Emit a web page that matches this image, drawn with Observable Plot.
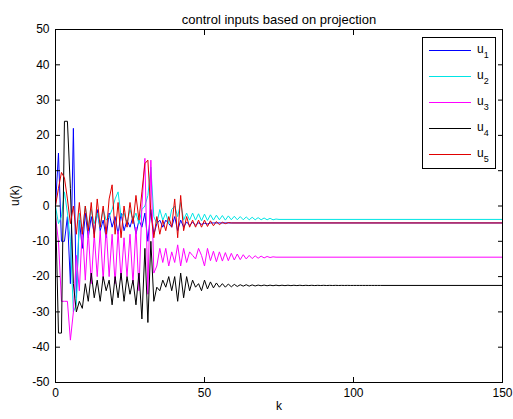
<!DOCTYPE html>
<html><head><meta charset="utf-8">
<script src="https://cdn.jsdelivr.net/npm/d3@7"></script>
<script src="https://cdn.jsdelivr.net/npm/@observablehq/plot@0.6"></script>
<style>
body{margin:0;background:#fff;}
#chart svg{display:block;}
</style></head><body><div id="chart"></div>
<script>
const title = "control inputs based on projection";
const xLabel = "k";
const yLabel = "u(k)";
const xTicks = [0, 50, 100, 150];
const yTicks = [-50, -40, -30, -20, -10, 0, 10, 20, 30, 40, 50];
const seriesNames = ["u1", "u2", "u3", "u4", "u5"];
const subscripts = ["1", "2", "3", "4", "5"];
const colors = ["#0000ff", "#00e5e5", "#ff00ff", "#000000", "#e00000"];
const kMax = 150;

// values for k = 0, 1, 2, ... until each input settles
const u1 = [0, 15, -10, -10, -3, -22, 22, -26, -4, -12, -2, -9, -3, -8, -1, -7, -4, -9, -2, -6,
  -3, -8, -2, -7, -4, -6, -3, -8, -4, -6, -2, -10, -1, -8, -5, -4, -6, -4, -5, -6,
  -3, -7, -4, -6, -4.5, -5.5, -4.6, -5.4, -4.8, -5.2, -4.9, -5.1, -4.8, -4.8];
const u2 = [0, -5, -3, 4, -2, -10, -30, -28, -2, -8, 0, -6, -1, -5, -2, -6, -1, -4, -3, -1,
  2, 4, -3, -2, -5, -1, -4, -2, -5, -1, 0, 3, 11, -3, -5, -1, -4, -2, -5, -1,
  0, -3, 1, -4, -2, -4, -2, -4, -2.2, -4.2, -2.3, -4.1, -2.5, -4, -2.6, -3.9, -2.7, -4, -2.8, -3.9,
  -2.9, -3.9, -3, -3.9, -3.1, -3.9, -3.2, -3.9, -3.3, -3.9, -3.4, -3.9, -3.5, -3.9, -3.7, -3.8];
const u3 = [-3, -10, -27, -27, -27, -38, -30, -14, -24, -6, -21, -7, -22, -8, -20, -7, -21, -6, -20, -8,
  -22, -7, -21, -9, -20, -8, -22, -6, -24, 0, 13.5, -25, 13, -19, -17, -12, -16, -12, -17, -13,
  -16, -11, -17, -12, -16, -13, -14, -15, -12, -14, -17, -12, -15.5, -12.8, -15.8, -13, -15.6, -13.2, -15.5, -13.4,
  -15.3, -13.6, -15.2, -13.8, -15, -14, -14.9, -14.1, -14.8, -14.2, -14.7, -14.3, -14.6, -14.4, -14.5, -14.5];
const u4 = [0, -36, -36, 24, 24, 5, -22, -30, -27, -29, -22, -27, -19, -26, -21, -27, -20, -24, -21, -28,
  -20, -26, -19, -27, -20, -25, -21, -28, -19, -32, -12, -33, -10, -27, -23, -24, -21, -23, -20, -24,
  -20, -27, -19, -26, -20, -24, -21, -23, -22, -24, -21, -23.5, -21.5, -23.2, -21.8, -23, -22, -23, -22.1, -22.9,
  -22.2, -22.8, -22.3, -22.7, -22.3, -22.7, -22.35, -22.65, -22.4, -22.6, -22.4, -22.6, -22.42, -22.58, -22.42, -22.58, -22.44, -22.56, -22.44, -22.56,
  -22.45, -22.55, -22.45, -22.55, -22.46, -22.54, -22.46, -22.54, -22.47, -22.53, -22.47, -22.53, -22.48, -22.52, -22.48, -22.52, -22.49, -22.51, -22.49, -22.51,
  -22.5, -22.5, -22.5, -22.5, -22.5, -22.5, -22.5, -22.5, -22.5, -22.5];
const u5 = [0, 5, 9.5, 8, 2, -5, 0, -8, 1, -8, 0, -7, 1, -9, 2, -6, 0, -8, 2, 6,
  -8, 1, -9, 0, -6, 1, -5, 3, -4, 4, 12, 13, -2, -9, -3, -8, -4, -7, -3, -6,
  2, -9, 3, -7, -3, -6, -4, -6, -4, -6, -4, -5.8, -4.2, -5.6, -4.4, -5.3, -4.6, -5, -4.7, -4.8];

const series = [u1, u2, u3, u4, u5];
const rows = [];
series.forEach((vals, i) => {
  vals.forEach((v, k) => rows.push({k, v, s: seriesNames[i]}));
  rows.push({k: kMax, v: vals[vals.length - 1], s: seriesNames[i]});
});

const font = "'Liberation Sans', Arial, sans-serif";
const chart = Plot.plot({
  width: 513, height: 419,
  marginLeft: 55, marginRight: 11, marginTop: 29, marginBottom: 37,
  style: {fontFamily: font, fontSize: "12px", background: "#fff", color: "#000"},
  x: {domain: [0, kMax]},
  y: {domain: [-50, 50]},
  color: {domain: seriesNames, range: colors},
  marks: [
    Plot.line(rows, {x: "k", y: "v", z: "s", stroke: "s", strokeWidth: 1}),
    Plot.frame({stroke: "#000"}),
    Plot.axisX({ticks: xTicks, tickSize: -5, tickPadding: 11, label: null, fontSize: 12, tickFormat: d => String(d)}),
    Plot.axisX({anchor: "top", ticks: xTicks, tickSize: -5, tickFormat: () => "", label: null}),
    Plot.axisY({ticks: yTicks, tickSize: -5, tickPadding: 11, label: null, fontSize: 12, tickFormat: d => String(d)}),
    Plot.axisY({anchor: "right", ticks: yTicks, tickSize: -5, tickFormat: () => "", label: null}),
    Plot.text([title], {frameAnchor: "top", dy: -15, fontSize: 13}),
    Plot.text([xLabel], {frameAnchor: "bottom", dy: 27, fontSize: 12}),
    Plot.text([yLabel], {frameAnchor: "left", dx: -40, rotate: -90, fontSize: 12})
  ]
});
document.getElementById("chart").appendChild(chart);

// legend box (inside the axes, top-right)
const svg = d3.select(chart);
const lg = svg.append("g").attr("font-family", font).attr("text-anchor", "start");
lg.append("rect").attr("x", 422.5).attr("y", 37.5).attr("width", 73).attr("height", 131)
  .attr("fill", "#fff").attr("stroke", "#000");
seriesNames.forEach((s, i) => {
  const y = 50 + i * 26;
  lg.append("line").attr("x1", 429).attr("x2", 471).attr("y1", y + 0.5).attr("y2", y + 0.5)
    .attr("stroke", colors[i]).attr("stroke-width", 1);
  const t = lg.append("text").attr("x", 477).attr("y", y + 3).attr("font-size", 12);
  t.append("tspan").text("u");
  t.append("tspan").attr("dy", 5).attr("font-size", 9).text(subscripts[i]);
});
</script></body></html>
